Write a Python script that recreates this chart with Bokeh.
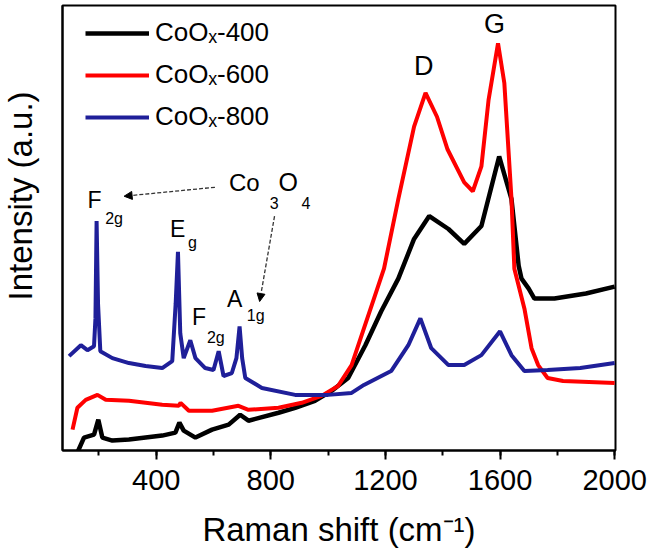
from bokeh.plotting import figure
from bokeh.models import (Range1d, SingleIntervalTicker, Legend, LegendItem, Label,
                          Arrow, NormalHead, Title)
from bokeh.embed import file_html
from bokeh.resources import INLINE

# ---- data (intensity in arbitrary units) ----
x_400 = [125, 148, 183, 198, 212, 247, 305, 421, 467, 481, 496, 537, 595, 653, 693, 722,
         827, 885, 954, 1012, 1070, 1130, 1185, 1245, 1300, 1353, 1420, 1475, 1535, 1597,
         1640, 1665, 1675, 1700, 1720, 1790, 1900, 2000]
y_400 = [0, 15, 18, 33, 15, 12, 13, 17, 20, 30, 22, 15, 23, 28, 38, 32,
         40, 45, 52, 62, 75, 108, 142, 175, 215, 238, 225, 210, 228, 298,
         255, 188, 175, 165, 155, 155, 160, 167]

x_600 = [108, 125, 154, 195, 224, 305, 421, 479, 485, 514, 595, 687, 722, 827, 908, 977,
         1035, 1082, 1125, 1160, 1195, 1245, 1300, 1340, 1380, 1417, 1475, 1505, 1535,
         1560, 1593, 1615, 1640, 1650, 1685, 1710, 1733, 1766, 1820, 2000]
y_600 = [23, 45, 53, 58, 53, 52, 48, 47, 50, 42, 42, 47, 43, 45, 50, 57,
         67, 88, 125, 155, 185, 255, 328, 362, 338, 305, 272, 263, 288,
         355, 412, 372, 255, 185, 145, 105, 88, 75, 72, 70]

x_800 = [96, 137, 160, 183, 188, 192, 197, 205, 247, 305, 363, 421, 456, 468, 476, 484,
         496, 519, 537, 571, 600, 618, 635, 664, 680, 691, 700, 711, 769, 885, 1000, 1082,
         1125, 1220, 1280, 1322, 1360, 1420, 1475, 1535, 1600, 1640, 1685, 1766, 1880, 2000]
y_800 = [97, 108, 103, 107, 135, 233, 150, 102, 95, 90, 87, 85, 92, 150, 202, 120,
         95, 113, 95, 85, 83, 102, 77, 80, 95, 127, 95, 75, 65, 58, 58, 60,
         68, 82, 108, 135, 105, 88, 88, 98, 122, 98, 82, 83, 85, 90]

series_names = ["CoOₓ-400", "CoOₓ-600", "CoOₓ-800"]
series_colors = ["#000000", "#ff0000", "#1f1f99"]
x_ticks_interval = 400

FONT = "Liberation Sans"

p = figure(width=650, height=550, output_backend="svg", toolbar_location=None,
           x_range=Range1d(73, 2003), y_range=Range1d(2, 450),
           min_border_left=60, min_border_right=35, min_border_top=5, min_border_bottom=97)
p.background_fill_color = "white"
p.border_fill_color = "white"
p.outline_line_color = "black"
p.outline_line_width = 2
p.xgrid.visible = False
p.ygrid.visible = False

r400 = p.line(x_400, y_400, line_color=series_colors[0], line_width=4.5)
r600 = p.line(x_600, y_600, line_color=series_colors[1], line_width=4)
r800 = p.line(x_800, y_800, line_color=series_colors[2], line_width=4)

# x axis
xa = p.xaxis[0]
xa.ticker = SingleIntervalTicker(interval=x_ticks_interval, num_minor_ticks=2)
xa.axis_line_width = 2
xa.major_tick_out = 9
xa.major_tick_in = 0
xa.major_tick_line_width = 2
xa.minor_tick_out = 5
xa.minor_tick_in = 0
xa.minor_tick_line_width = 2
xa.major_label_text_font = FONT
xa.major_label_text_font_size = "29px"
xa.major_label_text_color = "black"
xa.major_label_standoff = 10
xa.axis_label = "Raman shift (cm⁻¹)"
xa.axis_label_text_font = FONT
xa.axis_label_text_font_size = "33px"
xa.axis_label_text_font_style = "normal"
xa.axis_label_text_color = "black"
xa.axis_label_standoff = 18

# y axis (no ticks, no labels; invisible ticks keep room before the title)
ya = p.yaxis[0]
ya.axis_line_width = 2
ya.major_tick_line_color = None
ya.minor_tick_line_color = None
ya.major_tick_out = 23
ya.major_tick_in = 0
ya.minor_tick_out = 0
ya.minor_tick_in = 0
ya.major_label_standoff = 4
ya.major_label_text_font_size = "0px"
ya.major_label_text_color = None

# y axis title (left panel, shifted upward like the reference)
p.add_layout(Title(text="Intensity (a.u.)", align="left", offset=150,
                   vertical_align="middle", standoff=0,
                   text_font=FONT, text_font_size="33px", text_font_style="normal",
                   text_color="black"), "left")

# legend
legend = Legend(items=[LegendItem(label=series_names[0], renderers=[r400]),
                       LegendItem(label=series_names[1], renderers=[r600]),
                       LegendItem(label=series_names[2], renderers=[r800])],
                location=(23, 318))
legend.label_text_font = FONT
legend.label_text_font_size = "26px"
legend.label_text_color = "black"
legend.glyph_width = 64
legend.glyph_height = 20
legend.label_standoff = 6
legend.spacing = 11
legend.padding = 0
legend.margin = 0
legend.background_fill_alpha = 0
legend.border_line_color = None
p.add_layout(legend)

# peak annotations (y = bottom of the text box)
def lab(x, y, t, size):
    p.add_layout(Label(x=x, y=y, text=t, text_font=FONT, text_font_size=size,
                       text_color="black", text_align="left", text_baseline="bottom"))

lab(160, 241, "F", "23px");   lab(222, 227, "2g", "16px")
lab(448, 212, "E", "23px");   lab(511, 203, "g", "16px")
lab(525, 123, "F", "23px");   lab(577, 107, "2g", "16px")
lab(647, 141, "A", "23px");   lab(716, 129, "1g", "16px")
lab(654, 258, "Co", "24px");  lab(796, 245, "3", "16px")
lab(827, 258, "O", "25px");   lab(907, 245, "4", "16px")
lab(1300, 374, "D", "27px")
lab(1544, 416, "G", "27px")

for (xs, ys, xe, ye) in [(605, 267, 288, 258), (813, 238, 761, 152)]:
    p.add_layout(Arrow(x_start=xs, y_start=ys, x_end=xe, y_end=ye,
                       line_color="#333333", line_width=1.3, line_dash="4 2",
                       end=NormalHead(size=8, fill_color="black", line_color="black")))

open("out.html", "w").write(file_html(p, INLINE))
